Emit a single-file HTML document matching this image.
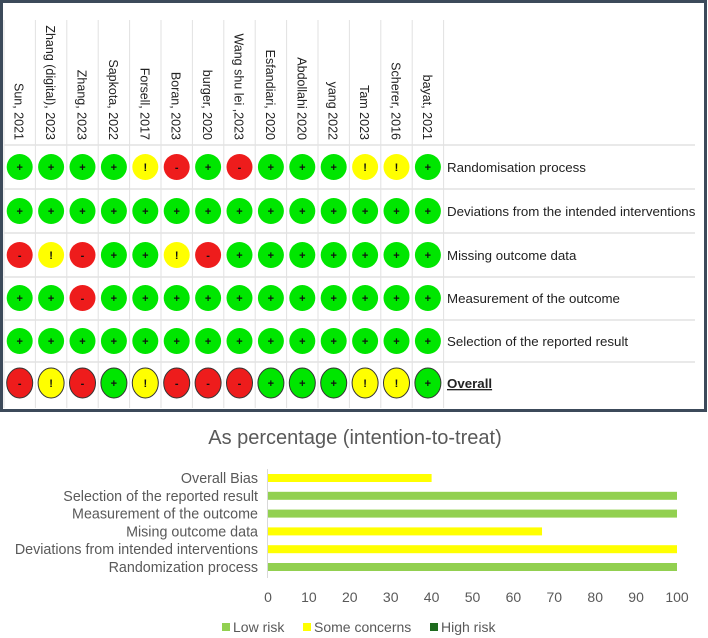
<!DOCTYPE html>
<html><head><meta charset="utf-8"><style>
body{margin:0;background:#fff;width:708px;height:638px;overflow:hidden;font-family:"Liberation Sans",sans-serif}
svg{display:block}
</style></head><body>
<svg id="s" width="708" height="638">
<rect x="1.5" y="1.5" width="704" height="409" fill="#fff" stroke="#3c4a5a" stroke-width="3"/>
<g id="tl"></g>
<text x="355" y="444" text-anchor="middle" font-size="20" fill="#595959">As percentage (intention-to-treat)</text>
<g id="bc"></g>
</svg>
<script>
const studies=["Sun, 2021","Zhang (digital), 2023","Zhang, 2023","Sapkota, 2022","Forsell, 2017","Boran, 2023","burger, 2020","Wang shu lei ,2023","Esfandiari, 2020","Abdollahi 2020","yang 2022","Tam 2023","Scherer, 2016","bayat, 2021"];
const domains=["Randomisation process","Deviations from the intended interventions","Missing outcome data","Measurement of the outcome","Selection of the reported result","Overall"];
const judgements=[
"GGGGYRGRGGGYYG",
"GGGGGGGGGGGGGG",
"RYRGGYRGGGGGGG",
"GGRGGGGGGGGGGG",
"GGGGGGGGGGGGGG",
"RYRGYRRRGGGYYG"];
const barCats=["Overall Bias","Selection of the reported result","Measurement of the outcome","Mising outcome data","Deviations from intended interventions","Randomization process"];
const lowRisk=[0,100,100,0,0,100];
const someConcerns=[40,0,0,67,100,0];
const highRisk=[0,0,0,0,0,0];
const xTicks=[0,10,20,30,40,50,60,70,80,90,100];
const NS="http://www.w3.org/2000/svg";
function mk(t,a,p){const e=document.createElementNS(NS,t);for(const k in a)e.setAttribute(k,a[k]);p.appendChild(e);return e;}
const tl=document.getElementById('tl');
const col0=4,colW=31.4,rowY=[167,211,255,298,341,383],hdrBot=145;
const colors={G:"#00e600",Y:"#ffff00",R:"#ee1c1c"},sym={G:"+",Y:"!",R:"-"};
for(let i=0;i<=studies.length;i++){const l=mk('line',{x1:col0+i*colW,x2:col0+i*colW,y1:20,y2:408,stroke:"#e2e2e2","stroke-width":1},tl);
}
const rowLines=[hdrBot,189,233,277,320,362];
rowLines.forEach(y=>{const l=mk('line',{x1:col0,x2:695,y1:y,y2:y,stroke:"#e2e2e2","stroke-width":1.5},tl);
});
studies.forEach((s,i)=>{const cx=col0+colW*(i+0.5);
const t=mk('text',{x:0,y:0,transform:`translate(${cx-5},${hdrBot-5}) rotate(90)`,"font-size":"12.5","text-anchor":"end",fill:"#222"},tl);
t.textContent=s;});
domains.forEach((d,r)=>{const y=rowY[r];const ov=r===domains.length-1;
for(let i=0;i<studies.length;i++){const j=judgements[r][i];const cx=col0+colW*(i+0.5);
const c=mk('ellipse',{cx:cx,cy:y,rx:13,ry:ov?15:13,fill:colors[j],stroke:ov?"#333":"none","stroke-width":1},tl);

const t=mk('text',{x:cx,y:y+4,"text-anchor":"middle","font-size":"11","font-weight":"bold",fill:"#111"},tl);t.textContent=sym[j];
}
const lt=mk('text',{x:447,y:y+5,"font-size":"13.3",fill:"#222","font-weight":ov?"bold":"normal","text-decoration":ov?"underline":"none"},tl);
lt.textContent=d;});
const bc=document.getElementById('bc');
const x0=268,x1=677,y0=478,step=17.8,bh=8;
const xs=v=>x0+(x1-x0)*v/100;
xTicks.forEach(v=>{const t=mk('text',{x:xs(v),y:602,"text-anchor":"middle","font-size":"14",fill:"#595959"},bc);t.textContent=v;
});
const ax=mk('line',{x1:x0-0.5,x2:x0-0.5,y1:469,y2:578,stroke:"#d9d9d9"},bc);
barCats.forEach((c,i)=>{const y=y0+i*step;
const t=mk('text',{x:258,y:y+5,"text-anchor":"end","font-size":"14.3",fill:"#595959"},bc);t.textContent=c;

let acc=0;[[lowRisk,"#92d050"],[someConcerns,"#ffff00"],[highRisk,"#1e6b1e"]].forEach(([arr,col])=>{const v=arr[i];if(v>0){
const b=mk('rect',{x:xs(acc),y:y-bh/2,width:xs(acc+v)-xs(acc),height:bh,fill:col},bc);
}acc+=v;});});
const leg=[["Low risk","#92d050",222],["Some concerns","#ffff00",303],["High risk","#1e6b1e",430]];
leg.forEach(([n,c,x])=>{const r=mk('rect',{x:x,y:623,width:8,height:8,fill:c},bc);
const t=mk('text',{x:x+11,y:632,"font-size":"14",fill:"#595959"},bc);t.textContent=n;});
</script>
</body></html>
